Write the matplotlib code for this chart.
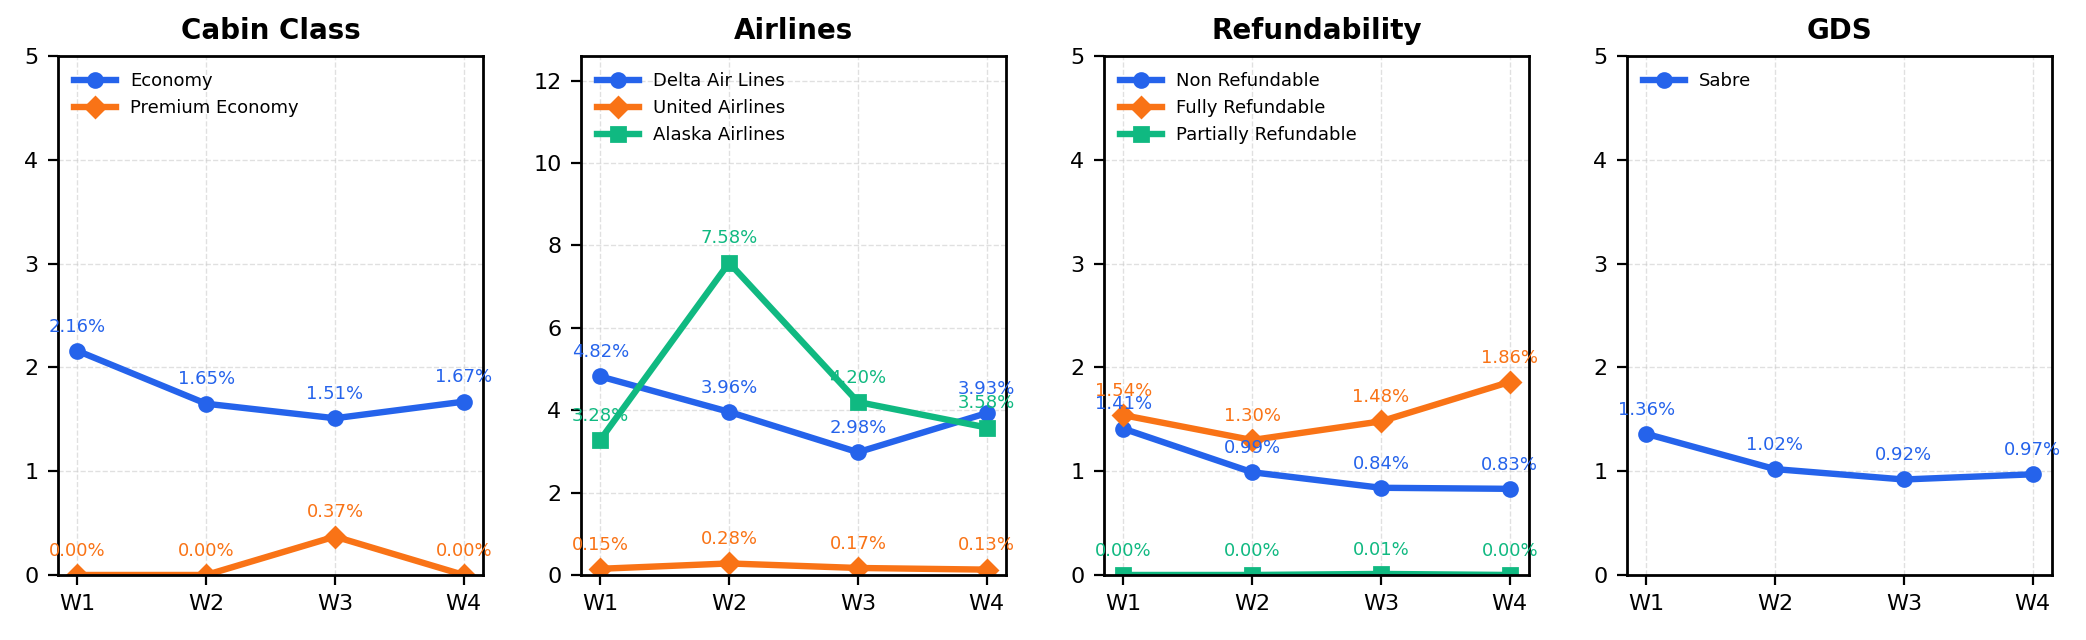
import matplotlib
matplotlib.use("Agg")
import matplotlib.pyplot as plt

weeks = ["W1", "W2", "W3", "W4"]

# Cabin Class
cabin_names = ["Economy", "Premium Economy"]
economy = [2.16, 1.65, 1.51, 1.67]
premium_economy = [0.00, 0.00, 0.37, 0.00]

# Airlines
airline_names = ["Delta Air Lines", "United Airlines", "Alaska Airlines"]
delta = [4.82, 3.96, 2.98, 3.93]
united = [0.15, 0.28, 0.17, 0.13]
alaska = [3.28, 7.58, 4.20, 3.58]

# Refundability
refund_names = ["Non Refundable", "Fully Refundable", "Partially Refundable"]
non_refundable = [1.41, 0.99, 0.84, 0.83]
fully_refundable = [1.54, 1.30, 1.48, 1.86]
partially_refundable = [0.00, 0.00, 0.01, 0.00]

# GDS
gds_names = ["Sabre"]
sabre = [1.36, 1.02, 0.92, 0.97]

colors = ["#2563eb", "#f97316", "#10b981"]
markers = ["o", "D", "s"]

panels = [
    ("Cabin Class", cabin_names, [economy, premium_economy], 5),
    ("Airlines", airline_names, [delta, united, alaska], 12.6),
    ("Refundability", refund_names, [non_refundable, fully_refundable, partially_refundable], 5),
    ("GDS", gds_names, [sabre], 5),
]

fig, axes = plt.subplots(1, 4, figsize=(10.43, 3.2), dpi=200)
plt.subplots_adjust(left=0.0278, right=0.9837, top=0.9125, bottom=0.1016, wspace=0.23)

x = list(range(len(weeks)))
for ax, (title, names, series, ymax) in zip(axes, panels):
    for i, (name, vals) in enumerate(zip(names, series)):
        ax.plot(x, vals, color=colors[i], marker=markers[i], lw=2.3, ms=5, label=name)
        for xi, v in zip(x, vals):
            ax.annotate(f"{v:.2f}%", (xi, v), xytext=(0, 5.5), textcoords="offset points",
                        ha="center", va="bottom", fontsize=6.5, color=colors[i])
    ax.set_title(title, fontsize=10, fontweight="bold")
    ax.set_xticks(x)
    ax.set_xticklabels(weeks)
    ax.set_ylim(0, ymax)
    ax.tick_params(labelsize=8)
    ax.grid(True, linestyle="--", color="#cccccc", alpha=0.6, lw=0.5)
    for s in ax.spines.values():
        s.set_linewidth(1.0)
    ax.legend(loc="upper left", frameon=False, fontsize=6.5, handlelength=2.3)

plt.savefig("out.png", dpi=200)
